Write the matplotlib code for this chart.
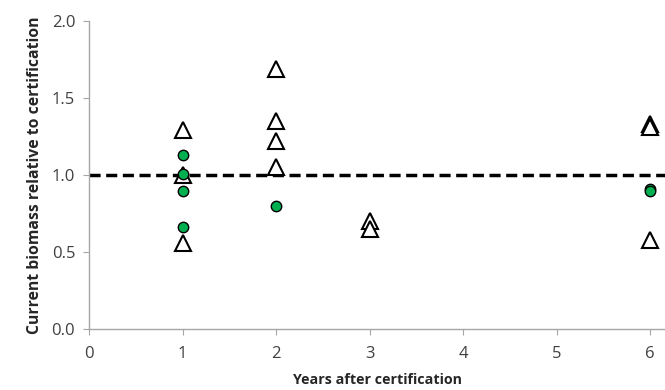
import matplotlib.pyplot as plt
import numpy as np

# data
tri_years = [1, 1, 1, 2, 2, 2, 2, 3, 3, 6, 6, 6]
tri_vals = [1.29, 1.00, 0.56, 1.69, 1.35, 1.22, 1.05, 0.70, 0.65, 1.33, 1.31, 0.58]
dot_years = [1, 1, 1, 1, 2, 6, 6]
dot_vals = [1.13, 1.01, 0.90, 0.66, 0.80, 0.91, 0.90]
reference_level = 1.0

xticks = [0, 1, 2, 3, 4, 5, 6]
yticks = [0.0, 0.5, 1.0, 1.5, 2.0]

plt.rcParams['font.family'] = ['Open Sans', 'DejaVu Sans']

fig = plt.figure(figsize=(6.65, 3.9), dpi=100)
ax = fig.add_axes([0.134, 0.156, 0.866, 0.79])

ax.axhline(reference_level, color='black', lw=2.5, ls=(0, (3.2, 1.6)), zorder=1)
ax.plot(tri_years, tri_vals, '^', ms=12, mfc='white', mec='black', mew=1.5, ls='none', zorder=2)
ax.plot(dot_years, dot_vals, 'o', ms=7.5, mfc='#00b050', mec='black', mew=1.0, ls='none', zorder=3)

ax.set_xlim(0, 6.16)
ax.set_ylim(0, 2.0)
ax.set_xticks(xticks)
ax.set_yticks(yticks)
ax.set_yticklabels(['%.1f' % v for v in yticks])

for s in ['top', 'right']:
    ax.spines[s].set_visible(False)
for s in ['left', 'bottom']:
    ax.spines[s].set_color('#a6a6a6')
    ax.spines[s].set_linewidth(1.0)
ax.tick_params(colors='#a6a6a6', labelcolor='#404040', labelsize=12, length=4, direction='out')
ax.tick_params(axis='y', pad=6)
ax.tick_params(axis='x', pad=8)

ax.set_xlabel('Years after certification', fontsize=10.3, fontweight='bold', color='#262626', labelpad=8)
ax.set_ylabel('Current biomass relative to certification', fontsize=11.3, fontweight='bold', color='#262626', labelpad=6)

fig.savefig('out.png', dpi=100)
